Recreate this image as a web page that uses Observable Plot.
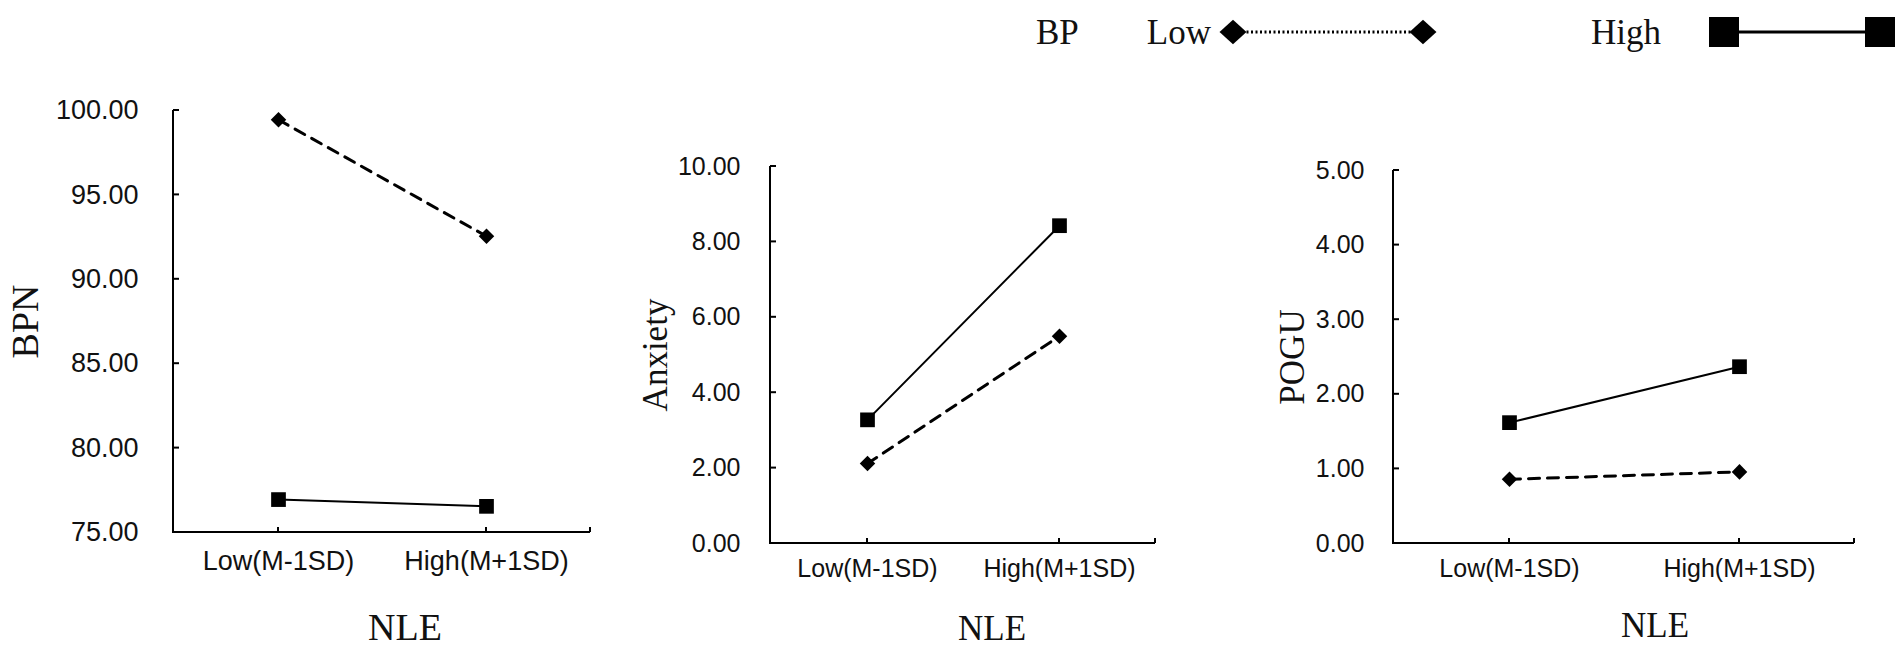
<!DOCTYPE html>
<html>
<head>
<meta charset="utf-8">
<script src="https://cdn.jsdelivr.net/npm/d3@7"></script>
<script src="https://cdn.jsdelivr.net/npm/@observablehq/plot@0.6"></script>
<style>
  body { margin: 0; background: white; }
  #wrap { position: relative; width: 1902px; height: 647px; background: white; overflow: hidden; }
  #wrap > svg, #wrap > figure { position: absolute; top: 0; margin: 0; }
</style>
</head>
<body>
<div id="wrap"></div>
<script>
// ---- data ----
const categories = ["Low(M-1SD)", "High(M+1SD)"];
const bpGroups = ["Low", "High"];
const bpnLow = [99.45, 92.55];
const bpnHigh = [76.95, 76.55];
const anxietyLow = [2.12, 5.50];
const anxietyHigh = [3.28, 8.43];
const poguLow = [0.86, 0.96];
const poguHigh = [1.62, 2.37];
const bpnTicks = [75, 80, 85, 90, 95, 100];
const anxietyTicks = [0, 2, 4, 6, 8, 10];
const poguTicks = [0, 1, 2, 3, 4, 5];

function rows(low, high) {
  return [
    ...categories.map((c, i) => ({nle: c, bp: "Low", v: low[i]})),
    ...categories.map((c, i) => ({nle: c, bp: "High", v: high[i]}))
  ];
}

const wrap = document.getElementById("wrap");
const serif = "'Liberation Serif', 'Times New Roman', serif";
const sans = "'Liberation Sans', Arial, sans-serif";

function panel(cfg) {
  const data = rows(cfg.low, cfg.high);
  const low = data.filter(d => d.bp === "Low");
  const high = data.filter(d => d.bp === "High");
  const chart = Plot.plot({
    width: cfg.width,
    height: 647,
    marginLeft: cfg.ml,
    marginRight: cfg.mr,
    marginTop: cfg.mt,
    marginBottom: cfg.mb,
    style: {fontFamily: sans, fontSize: cfg.tickFont + "px", color: "#111", background: "transparent"},
    x: {type: "point", domain: categories, padding: 0.5, axis: null},
    y: {domain: cfg.domain, axis: null},
    marks: [
      Plot.axisY({ticks: cfg.ticks, tickFormat: d => d.toFixed(2), tickSize: 0, tickPadding: cfg.tickPad,
        label: null, fontSize: cfg.tickFont, fill: "#111"}),
      Plot.axisX({tickSize: 0, tickPadding: cfg.xPad, label: null,
        fontSize: cfg.tickFont, fill: "#111"}),
      Plot.line(low, {x: "nle", y: "v", stroke: "#000", strokeWidth: 3, strokeDasharray: "11,8"}),
      Plot.line(high, {x: "nle", y: "v", stroke: "#000", strokeWidth: 2}),
      Plot.dot(low, {x: "nle", y: "v", symbol: "diamond2", r: 7, fill: "#000"}),
      Plot.dot(high, {x: "nle", y: "v", symbol: "square", r: 8.3, fill: "#000"}),
      Plot.text([cfg.ylabel], {frameAnchor: "left", textAnchor: "middle", lineAnchor: "middle",
        dx: cfg.ylx, dy: cfg.yly, rotate: -90, text: d => d,
        fontFamily: serif, fontSize: cfg.labelFont, fill: "#111"}),
      Plot.text(["NLE"], {frameAnchor: "bottom", textAnchor: "middle", lineAnchor: "middle",
        dx: cfg.nlex, dy: cfg.nley, text: d => d,
        fontFamily: serif, fontSize: cfg.labelFont, fill: "#111"})
    ]
  });
  chart.style.left = cfg.left + "px";
  wrap.appendChild(chart);

  // axis lines and inward ticks, positioned with the chart's own scales
  const xs = chart.scale("x"), ys = chart.scale("y");
  const [x0, x1] = xs.range;
  const yTop = ys.apply(cfg.domain[1]), yBot = ys.apply(cfg.domain[0]);
  const g = d3.select(chart).append("g").attr("stroke", "#000").attr("stroke-width", 2).attr("fill", "none");
  g.append("path").attr("d", `M${x0},${yTop}V${yBot}H${x1}`);
  cfg.ticks.forEach(t => g.append("path").attr("d", `M${x0},${ys.apply(t)}h6`));
  [...categories.map(c => xs.apply(c)), x1].forEach(x => g.append("path").attr("d", `M${x},${yBot}v-5`));
}

panel({left: 0, width: 600, ml: 173, mr: 10, mt: 110, mb: 115, domain: [75, 100], ticks: bpnTicks,
  low: bpnLow, high: bpnHigh, tickFont: 27, labelFont: 38, tickPad: 35, xPad: 18,
  ylabel: "BPN", ylx: -148, yly: 0, nlex: 23, nley: 95});
panel({left: 600, width: 600, ml: 170, mr: 45, mt: 166, mb: 104, domain: [0, 10], ticks: anxietyTicks,
  low: anxietyLow, high: anxietyHigh, tickFont: 25, labelFont: 35, tickPad: 30, xPad: 16,
  ylabel: "Anxiety", ylx: -115, yly: 0, nlex: 29, nley: 85});
panel({left: 1200, width: 702, ml: 193, mr: 48, mt: 170, mb: 104, domain: [0, 5], ticks: poguTicks,
  low: poguLow, high: poguHigh, tickFont: 25, labelFont: 35, tickPad: 29, xPad: 16,
  ylabel: "POGU", ylx: -101, yly: 0, nlex: 31, nley: 82});

// ---- legend ----
const leg = d3.select(wrap).append("svg")
  .attr("width", 1902).attr("height", 70)
  .style("left", "0px").style("font-family", serif).style("font-size", "35px");
const ly = 32;
leg.append("text").attr("x", 1036).attr("y", ly).attr("dy", "0.35em").attr("fill", "#111").text("BP");
leg.append("text").attr("x", 1211).attr("y", ly).attr("dy", "0.35em").attr("text-anchor", "end").attr("fill", "#111").text(bpGroups[0]);
leg.append("line").attr("x1", 1233).attr("x2", 1423).attr("y1", ly).attr("y2", ly)
  .attr("stroke", "#000").attr("stroke-width", 3).attr("stroke-dasharray", "2,2.5");
const diamond = d3.symbol(d3.symbolDiamond2, 420)();
[1233, 1423].forEach(x => leg.append("path").attr("d", diamond).attr("transform", `translate(${x},${ly}) scale(1.05,0.95)`).attr("fill", "#000"));
leg.append("text").attr("x", 1591).attr("y", ly).attr("dy", "0.35em").attr("fill", "#111").text(bpGroups[1]);
leg.append("line").attr("x1", 1724).attr("x2", 1880).attr("y1", ly).attr("y2", ly)
  .attr("stroke", "#000").attr("stroke-width", 3);
[1724, 1880].forEach(x => leg.append("rect").attr("x", x - 15).attr("y", ly - 15).attr("width", 30).attr("height", 30).attr("fill", "#000"));
</script>
</body>
</html>
